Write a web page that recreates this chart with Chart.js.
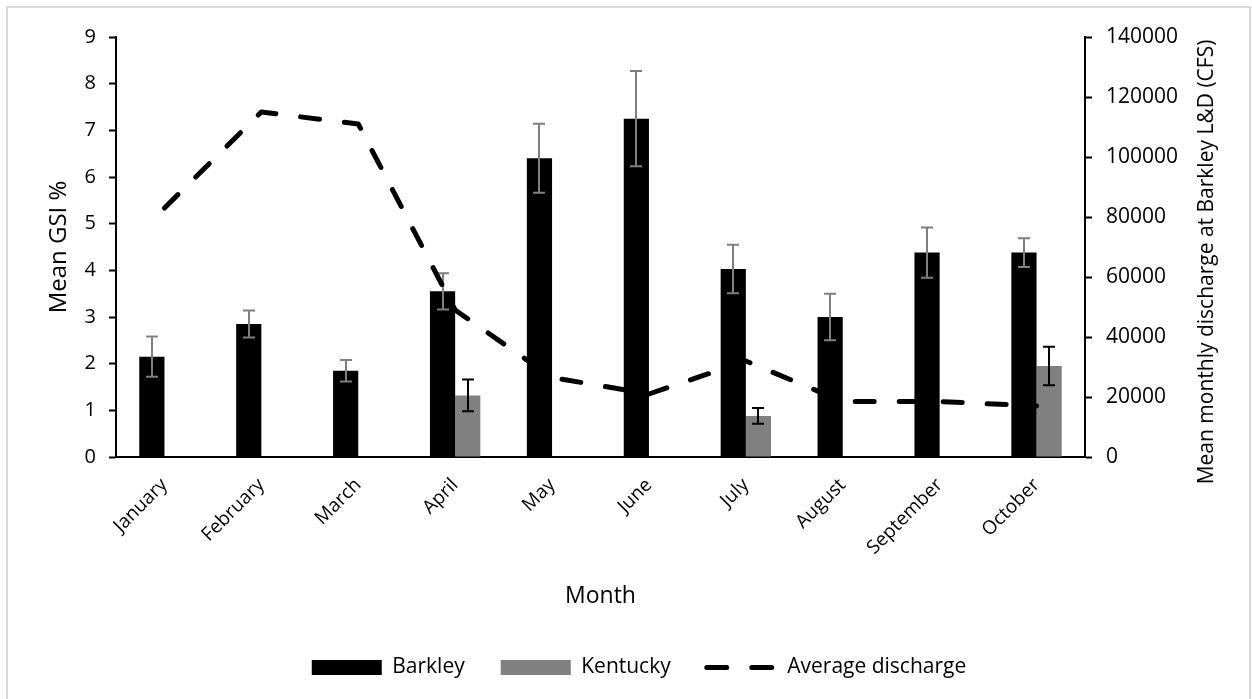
<!DOCTYPE html>
<html>
<head>
  <meta charset="UTF-8">
  <title>Mean GSI % and discharge</title>
  <script src="https://cdn.jsdelivr.net/npm/chart.js@4.4.1/dist/chart.umd.min.js"></script>
  <style>
    html, body { margin: 0; padding: 0; background: #fff; }
    #myChart { position: absolute; left: 0; top: 0; }
  </style>
</head>
<body>
<canvas id="myChart" width="1252" height="699"></canvas>
<script>
  // data
  var months = ["January", "February", "March", "April", "May", "June",
                "July", "August", "September", "October"];
  var barkley    = [2.15, 2.85, 1.85, 3.55, 6.40, 7.25, 4.03, 3.00, 4.38, 4.38];
  var barkleyErr = [0.43, 0.29, 0.23, 0.39, 0.74, 1.02, 0.52, 0.50, 0.54, 0.31];
  var kentucky    = [null, null, null, 1.32, null, null, 0.88, null, null, 1.95];
  var kentuckyErr = [null, null, null, 0.34, null, null, 0.17, null, null, 0.41];
  var discharge = [83000, 115000, 111000, 49000, 26500, 21000, 32000, 18500, 18500, 17000];
  var gsiTicks = [0, 1, 2, 3, 4, 5, 6, 7, 8, 9];
  var cfsTicks = [0, 20000, 40000, 60000, 80000, 100000, 120000, 140000];

  var FONT = "'Open Sans', 'Noto Sans', sans-serif";

  // frame + white background
  var framePlugin = {
    id: "frame",
    beforeDraw: function(chart) {
      var c = chart.ctx;
      c.save();
      c.fillStyle = "#fff";
      c.fillRect(0, 0, chart.width, chart.height);
      c.strokeStyle = "#d9d9d9";
      c.lineWidth = 2;
      c.beginPath();
      c.moveTo(7, 710);
      c.lineTo(7, 7);
      c.lineTo(1250, 7);
      c.lineTo(1250, 710);
      c.stroke();
      c.restore();
    },
    // legend in the original sits a bit right of the canvas centre
    afterLayout: function(chart) {
      if (chart.legend) {
        chart.legend.left += 13;
        chart.legend.right += 13;
      }
    }
  };

  // error bars, drawn right after each bar dataset
  var errorPlugin = {
    id: "errbars",
    afterDatasetDraw: function(chart, args) {
      var ds = chart.data.datasets[args.index];
      if (!ds.errors) return;
      var c = chart.ctx, y = chart.scales.y;
      c.save();
      c.strokeStyle = ds.errorColor;
      c.lineWidth = 2;
      args.meta.data.forEach(function(bar, i) {
        var v = ds.data[i], e = ds.errors[i];
        if (v == null || e == null) return;
        var x = Math.round(bar.x);
        var yt = y.getPixelForValue(v + e), yb = y.getPixelForValue(v - e);
        c.beginPath();
        c.moveTo(x, yt); c.lineTo(x, yb);
        c.moveTo(x - 6, yt); c.lineTo(x + 6, yt);
        c.moveTo(x - 6, yb); c.lineTo(x + 6, yb);
        c.stroke();
      });
      c.restore();
    }
  };

  // right axis title reads bottom to top, like the left one
  var rightTitlePlugin = {
    id: "rightTitle",
    afterDraw: function(chart) {
      var c = chart.ctx;
      c.save();
      c.translate(1207, 262);
      c.rotate(-Math.PI / 2);
      c.font = "21px " + FONT;
      c.fillStyle = "#000";
      c.textAlign = "center";
      c.textBaseline = "middle";
      c.fillText("Mean monthly discharge at Barkley L&D (CFS)", 0, 0);
      c.restore();
    }
  };

  new Chart(document.getElementById("myChart"), {
    type: "bar",
    data: {
      labels: months,
      datasets: [
        {
          label: "Barkley",
          data: barkley,
          errors: barkleyErr,
          errorColor: "#7f7f7f",
          backgroundColor: "#000000",
          yAxisID: "y",
          order: 1,
          categoryPercentage: 0.52,
          barPercentage: 1.0
        },
        {
          label: "Kentucky",
          data: kentucky,
          errors: kentuckyErr,
          errorColor: "#000000",
          backgroundColor: "#808080",
          yAxisID: "y",
          order: 1,
          categoryPercentage: 0.52,
          barPercentage: 1.0
        },
        {
          type: "line",
          label: "Average discharge",
          data: discharge,
          yAxisID: "y1",
          order: 0,
          borderColor: "#000000",
          backgroundColor: "#000000",
          borderWidth: 5,
          borderDash: [19, 25],
          borderCapStyle: "round",
          borderJoinStyle: "round",
          pointRadius: 0,
          tension: 0,
          fill: false
        }
      ]
    },
    options: {
      responsive: false,
      animation: false,
      devicePixelRatio: 1,
      layout: { padding: { left: 0, right: 0, top: 37, bottom: 11 } },
      plugins: {
        tooltip: { enabled: false },
        legend: {
          position: "bottom",
          labels: {
            usePointStyle: true,
            pointStyleWidth: 70,
            boxHeight: 15,
            padding: 36,
            color: "#000",
            font: { family: FONT, size: 21 },
            generateLabels: function(chart) {
              return chart.data.datasets.map(function(ds, i) {
                var isLine = ds.type === "line";
                return {
                  text: ds.label,
                  datasetIndex: i,
                  fillStyle: isLine ? "#000" : ds.backgroundColor,
                  strokeStyle: "#000",
                  lineWidth: isLine ? 5 : 0,
                  lineDash: isLine ? [20, 25] : [],
                  lineCap: isLine ? "round" : "butt",
                  pointStyle: isLine ? "line" : "rect",
                  fontColor: "#000",
                  hidden: false
                };
              });
            }
          }
        }
      },
      scales: {
        x: {
          grid: { display: false },
          border: { display: true, color: "#000", width: 2 },
          ticks: {
            color: "#000",
            font: { family: FONT, size: 19 },
            maxRotation: 45,
            minRotation: 45,
            padding: 9,
            autoSkip: false
          },
          title: {
            display: true,
            text: "Month",
            color: "#000",
            font: { family: FONT, size: 23 },
            padding: { top: 0, bottom: 11 }
          },
          afterFit: function(s) { s.height = 164; }
        },
        y: {
          position: "left",
          min: 0,
          max: 9,
          afterBuildTicks: function(s) { s.ticks = gsiTicks.map(function(v) { return { value: v }; }); },
          grid: { drawOnChartArea: false, color: "#000", tickLength: 7, tickWidth: 2 },
          border: { display: true, color: "#000", width: 2 },
          ticks: {
            color: "#000",
            font: { family: FONT, size: 20 },
            padding: 13
          },
          title: {
            display: true,
            text: "Mean GSI %",
            color: "#000",
            font: { family: FONT, size: 24 },
            padding: { top: 45, bottom: 0 }
          },
          afterFit: function(s) { s.width = 116; }
        },
        y1: {
          position: "right",
          min: 0,
          max: 140000,
          afterBuildTicks: function(s) { s.ticks = cfsTicks.map(function(v) { return { value: v }; }); },
          grid: { drawOnChartArea: false, color: "#000", tickLength: 7, tickWidth: 2 },
          border: { display: true, color: "#000", width: 2 },
          ticks: {
            color: "#000",
            font: { family: FONT, size: 21 },
            padding: 14,
            callback: function(v) { return String(v); }
          },
          afterFit: function(s) { s.width = 167; }
        }
      }
    },
    plugins: [framePlugin, errorPlugin, rightTitlePlugin]
  });
</script>
</body>
</html>
